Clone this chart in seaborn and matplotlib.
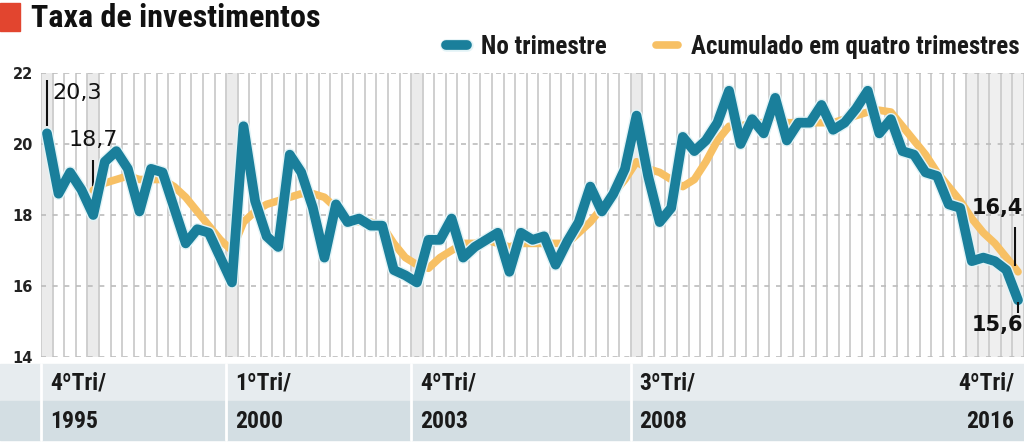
import numpy as np
import pandas as pd
import seaborn as sns
import matplotlib.pyplot as plt
import matplotlib.patheffects as pe
from matplotlib.patches import Rectangle

# Taxa de investimento (% do PIB), do 4º tri/1995 ao 4º tri/2016
no_trimestre = [
    20.3, 18.6, 19.2, 18.7, 18.0, 19.5, 19.8, 19.3, 18.1, 19.3,
    19.2, 18.2, 17.2, 17.6, 17.5, 16.8, 16.1, 20.5, 18.4, 17.4,
    17.1, 19.7, 19.2, 18.2, 16.8, 18.3, 17.8, 17.9, 17.7, 17.7,
    16.45, 16.3, 16.1, 17.3, 17.3, 17.9, 16.8, 17.1, 17.3, 17.5,
    16.4, 17.5, 17.3, 17.4, 16.6, 17.25, 17.8, 18.8, 18.1, 18.6,
    19.3, 20.8, 19.1, 17.8, 18.2, 20.2, 19.8, 20.1, 20.6, 21.5,
    20.0, 20.7, 20.3, 21.3, 20.1, 20.6, 20.6, 21.1, 20.4, 20.6,
    21.0, 21.5, 20.3, 20.7, 19.8, 19.7, 19.2, 19.1, 18.3, 18.2,
    16.7, 16.8, 16.7, 16.45, 15.6,
]
# acumulado em quatro trimestres (comeca no 5º ponto)
acumulado = [np.nan] * 4 + [
    18.7, 18.9, 19.0, 19.1, 19.0, 19.0,
    19.0, 18.8, 18.5, 18.1, 17.7, 17.3, 17.0, 17.8, 18.1, 18.3,
    18.4, 18.5, 18.6, 18.6, 18.5, 18.2, 17.9, 17.8, 17.8, 17.7,
    17.2, 16.8, 16.6, 16.5, 16.8, 17.0, 17.2, 17.2, 17.3, 17.2,
    17.1, 17.2, 17.2, 17.2, 17.2, 17.2, 17.5, 17.8, 18.2, 18.6,
    19.0, 19.5, 19.3, 19.2, 19.0, 18.8, 19.0, 19.5, 20.1, 20.5,
    20.5, 20.6, 20.6, 20.8, 20.6, 20.6, 20.6, 20.6, 20.6, 20.7,
    20.8, 20.9, 20.95, 20.9, 20.5, 20.1, 19.7, 19.2, 18.8, 18.4,
    17.9, 17.5, 17.2, 16.8, 16.4,
]
# trimestres marcados na tabela (indice na serie -> rotulos)
marcos_idx = [0, 16, 32, 51, 84]
marcos_tri = ["4ºTri/", "1ºTri/", "4ºTri/", "3ºTri/", "4ºTri/"]
marcos_ano = ["1995", "2000", "2003", "2008", "2016"]
destaques = [0, 4, 16, 32, 51]
y_ticks = [14, 16, 18, 20, 22]

AZUL = "#1a7f9b"
AMARELO = "#f7c064"
COND = ["Liberation Sans Narrow", "Roboto Condensed", "DejaVu Sans"]

sns.set_style("white")
plt.rcParams["font.family"] = ["DejaVu Sans"]

df = pd.DataFrame({"t": np.arange(len(no_trimestre)),
                   "no_tri": no_trimestre,
                   "acum": acumulado})
df_acum = df.dropna(subset=["acum"])

W, H = 1024, 443
def fx(px):
    return px / W
def fy(py):
    return 1 - py / H

fig = plt.figure(figsize=(10.24, 4.43), dpi=100)
ax = fig.add_axes([fx(41.2), fy(357), fx(1023.8) - fx(41.2), fy(73) - fy(357)])
n = len(no_trimestre)
ax.set_xlim(-0.5, n - 0.5)
ax.set_ylim(14, 22)

# fundo: colunas por trimestre, destaques e grade tracejada
for i in destaques:
    ax.axvspan(i - 0.5, i + 0.5, color="#ebebeb", lw=0, zorder=0)
ax.axvspan(n - 5.5, n - 0.5, color="#efefef", lw=0, zorder=0)
for i in range(n + 1):
    ax.axvline(i - 0.5, color="#cfcfcf", lw=1.4, zorder=0.5)
for v in y_ticks:
    ax.axhline(v, color="#bcbcbc", lw=1.2, dashes=(3, 4), zorder=0.6)

sns.lineplot(data=df_acum, x="t", y="acum", ax=ax, color=AMARELO, lw=5.5,
             errorbar=None, label="Acumulado em quatro trimestres",
             solid_capstyle="round", solid_joinstyle="round", zorder=2)
sns.lineplot(data=df, x="t", y="no_tri", ax=ax, color=AZUL, lw=7,
             errorbar=None, label="No trimestre",
             solid_capstyle="round", solid_joinstyle="round", zorder=3,
             path_effects=[pe.Stroke(linewidth=9, foreground="#e2f3f6"), pe.Normal()])

for s in ax.spines.values():
    s.set_visible(False)
ax.set_xlabel("")
ax.set_ylabel("")
ax.set_xticks([])
ax.set_yticks(y_ticks)
ax.set_yticklabels([str(v) for v in y_ticks], fontsize=10.5, fontweight="bold", color="#222222")
ax.tick_params(axis="y", length=0, pad=6)

# legenda
h, l = ax.get_legend_handles_labels()
leg = ax.legend(handles=[h[1], h[0]], labels=[l[1], l[0]], loc="center right",
                bbox_to_anchor=(fx(1020), fy(47)), bbox_transform=fig.transFigure,
                ncol=2, frameon=False, handlelength=0.85, handletextpad=0.55,
                columnspacing=2.0, borderaxespad=0, borderpad=0,
                prop=dict(family=COND, weight="bold", size=18))
for t in leg.get_texts():
    t.set_color("#1a1a1a")

# rotulos dos valores
def fmt(v):
    return f"{v:.1f}".replace(".", ",")

ax.vlines(0, no_trimestre[0] + 0.2, no_trimestre[0] + 1.5, color="#111111", lw=1.5, zorder=1)
ax.text(0.45, no_trimestre[0] + 1.15, fmt(no_trimestre[0]), fontsize=16, va="center",
        ha="left", color="#111111")
ax.vlines(4, acumulado[4] + 0.08, acumulado[4] + 0.85, color="#111111", lw=1.5, zorder=1)
ax.text(4, acumulado[4] + 1.4, fmt(acumulado[4]), fontsize=16, va="center",
        ha="center", color="#111111")
ax.vlines(n - 1.3, acumulado[-1] + 0.15, acumulado[-1] + 1.25, color="#111111", lw=1.5, zorder=4)
ax.text(n - 0.55, acumulado[-1] + 1.8, fmt(acumulado[-1]), fontsize=15, fontweight="bold",
        va="center", ha="right", color="#111111")
ax.vlines(n - 1, no_trimestre[-1] - 0.05, no_trimestre[-1] - 0.35, color="#111111", lw=1.5, zorder=4)
ax.text(n - 0.55, no_trimestre[-1] - 0.7, fmt(no_trimestre[-1]), fontsize=15, fontweight="bold",
        va="center", ha="right", color="#111111")

# titulo
fig.patches.append(Rectangle((0, fy(31)), fx(20), fy(3) - fy(31), transform=fig.transFigure,
                             color="#e2452f", zorder=5))
fig.text(fx(31), fy(18), "Taxa de investimentos", fontsize=23, fontweight="bold",
         family=COND, va="center", ha="left", color="#111111")

# tabela de datas (atras dos eixos)
fig.patches.append(Rectangle((0, fy(401)), 1, fy(364) - fy(401), transform=fig.transFigure,
                             color="#e7ecef", zorder=-1))
fig.patches.append(Rectangle((0, fy(440)), 1, fy(401) - fy(440), transform=fig.transFigure,
                             color="#d3dee3", zorder=-1))

def af(py):
    return (357 - py) / 284

tr = ax.get_xaxis_transform()
for k, (i, tri, ano) in enumerate(zip(marcos_idx, marcos_tri, marcos_ano)):
    if k < len(marcos_idx) - 1:
        ax.plot([i - 0.5, i - 0.5], [af(364), af(440)], transform=tr, color="white",
                lw=2, clip_on=False)
        x, ha = i + 0.25, "left"
    else:
        x, ha = i - 0.3, "right"
    ax.text(x, af(383), tri, transform=tr, fontsize=17, fontweight="bold", family=COND,
            ha=ha, va="center", color="#1a1a1a", clip_on=False)
    ax.text(x, af(421), ano, transform=tr, fontsize=17, fontweight="bold", family=COND,
            ha=ha, va="center", color="#1a1a1a", clip_on=False)

fig.savefig("out.png", dpi=100)
